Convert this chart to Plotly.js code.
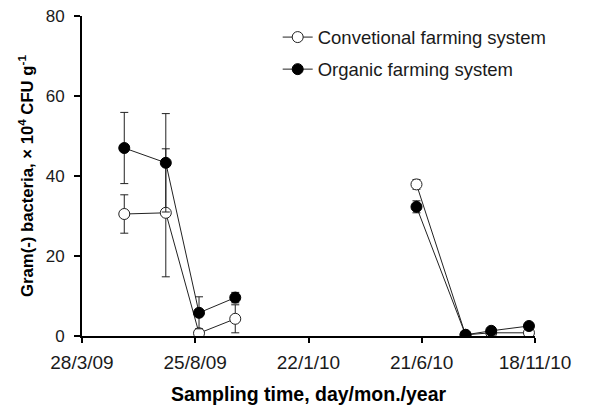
<!DOCTYPE html>
<html>
<head>
<meta charset="utf-8">
<script src="https://cdn.plot.ly/plotly-3.0.1.min.js"></script>
<style>html,body{margin:0;padding:0;background:#fff;}#chart{width:611px;height:408px;}</style>
</head>
<body>
<div id="chart"></div>
<script>
const samplingDates = ['2009-05-23','2009-07-17','2009-08-30','2009-10-17','2010-06-14','2010-08-18','2010-09-21','2010-11-10'];
const samplingSeason = [2009, 2009, 2009, 2009, 2010, 2010, 2010, 2010];
const conventionalValues = [30.5, 30.8, 0.7, 4.3, 37.9, 0.3, 0.8, 0.8];
const conventionalErrors = [4.8, 16.0, 0.5, 3.5, 1.2, 0.2, 0.3, 0.3];
const organicValues = [47.0, 43.3, 5.8, 9.6, 32.3, 0.3, 1.3, 2.5];
const organicErrors = [8.9, 12.3, 4.0, 1.3, 1.5, 0.2, 0.3, 0.6];
const tickDates = ['2009-03-28','2009-08-25','2010-01-22','2010-06-21','2010-11-18'];
const tickLabels = ['28/3/09','25/8/09','22/1/10','21/6/10','18/11/10'];
const yTicks = [0, 20, 40, 60, 80];

// insert a gap (null) between sampling seasons so the line is not joined
function withGaps(vals) {
  const out = {x: [], y: []};
  samplingDates.forEach((d, i) => {
    if (i > 0 && samplingSeason[i] !== samplingSeason[i - 1]) { out.x.push(d); out.y.push(null); }
    out.x.push(d); out.y.push(vals[i]);
  });
  return out;
}
function errWithGaps(errs) {
  const out = [];
  samplingDates.forEach((d, i) => {
    if (i > 0 && samplingSeason[i] !== samplingSeason[i - 1]) out.push(null);
    out.push(errs[i]);
  });
  return out;
}

const fam = 'Liberation Sans, Arial, sans-serif';
const conv = withGaps(conventionalValues);
const org = withGaps(organicValues);

const traces = [
  {
    name: 'Convetional farming system', legendgroup: 'c',
    x: conv.x, y: conv.y, connectgaps: false,
    type: 'scatter', mode: 'lines+markers',
    line: {color: '#222', width: 1},
    marker: {symbol: 'circle', size: 11, color: '#fff', line: {color: '#222', width: 1}},
    error_y: {type: 'data', array: errWithGaps(conventionalErrors), visible: true, color: '#222', thickness: 1, width: 4}
  },
  {
    name: 'Organic farming system', legendgroup: 'o',
    x: org.x, y: org.y, connectgaps: false,
    type: 'scatter', mode: 'lines+markers',
    line: {color: '#222', width: 1},
    marker: {symbol: 'circle', size: 11, color: '#000', line: {color: '#000', width: 1}},
    error_y: {type: 'data', array: errWithGaps(organicErrors), visible: true, color: '#222', thickness: 1, width: 4}
  }
];

const layout = {
  width: 611, height: 408,
  margin: {l: 82, r: 76, t: 16, b: 72},
  paper_bgcolor: '#fff', plot_bgcolor: '#fff',
  font: {family: fam, color: '#1a1a1a'},
  showlegend: true,
  legend: {
    x: 0.432, y: 0.992, xanchor: 'left', yanchor: 'top',
    bgcolor: 'rgba(0,0,0,0)',
    font: {family: fam, size: 18.5, color: '#1a1a1a'},
    tracegroupgap: 5, itemwidth: 30
  },
  xaxis: {
    type: 'date',
    range: [tickDates[0], tickDates[tickDates.length - 1]],
    tickmode: 'array', tickvals: tickDates, ticktext: tickLabels,
    showgrid: false, zeroline: false,
    showline: true, linecolor: '#000', linewidth: 2,
    ticks: 'outside', ticklen: 5, tickwidth: 2, tickcolor: '#000',
    ticklabelstandoff: 3,
    tickfont: {family: fam, size: 19, color: '#1a1a1a'},
    title: {text: 'Sampling time, day/mon./year', font: {family: fam, size: 19.5, color: '#000', weight: 'bold'}, standoff: 16}
  },
  yaxis: {
    range: [0, 80],
    tickmode: 'array', tickvals: yTicks,
    showgrid: false, zeroline: false,
    showline: true, linecolor: '#000', linewidth: 2,
    ticks: 'outside', ticklen: 6, tickwidth: 2, tickcolor: '#000',
    ticklabelstandoff: 6,
    tickfont: {family: fam, size: 17, color: '#1a1a1a'},
    title: {text: 'Gram(-) bacteria, \u00d7 10<sup>4</sup> CFU g<sup>-1</sup>', font: {family: fam, size: 16.7, color: '#000', weight: 'bold'}, standoff: 8}
  }
};

Plotly.newPlot('chart', traces, layout, {displayModeBar: false, staticPlot: true});
</script>
</body>
</html>
